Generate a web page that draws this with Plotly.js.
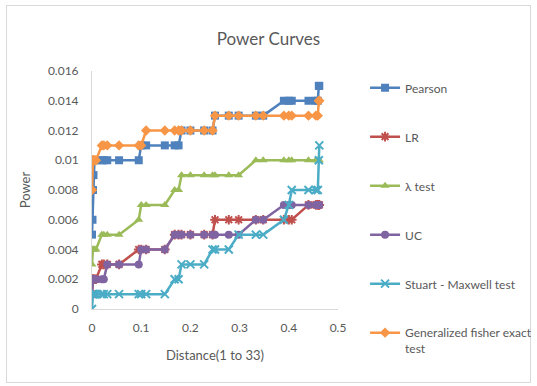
<!DOCTYPE html>
<html>
<head>
<meta charset="utf-8">
<script src="https://cdn.plot.ly/plotly-3.0.1.min.js"></script>
<style>
  html, body { margin: 0; padding: 0; background: #ffffff; }
  #wrap { position: relative; width: 537px; height: 386px; }
  #frame { position: absolute; left: 6px; top: 5px; width: 523px; height: 376px; border: 1px solid #d9d9d9; }
  #chart { position: absolute; left: 0; top: 0; width: 537px; height: 386px; }
</style>
</head>
<body>
<div id="wrap">
  <div id="frame"></div>
  <div id="chart"></div>
</div>
<script>
// Distance values (33 alternatives)
const distance = [0, 0.001, 0.002, 0.003, 0.005, 0.008, 0.02, 0.024, 0.031, 0.055, 0.095,
  0.1, 0.11, 0.148, 0.168, 0.176, 0.182, 0.2, 0.228, 0.245, 0.25, 0.278, 0.298,
  0.333, 0.348, 0.39, 0.4, 0.406, 0.44, 0.455, 0.459, 0.461, 0.462];

const pearson = [0.005, 0.006, 0.008, 0.009, 0.01, 0.01, 0.01, 0.01, 0.01, 0.01, 0.01,
  0.011, 0.011, 0.011, 0.011, 0.011, 0.012, 0.012, 0.012, 0.012, 0.013, 0.013, 0.013,
  0.013, 0.013, 0.014, 0.014, 0.014, 0.014, 0.014, 0.014, 0.015, 0.015];

const lr = [0.001, 0.002, 0.002, 0.002, 0.002, 0.002, 0.003, 0.003, 0.003, 0.003, 0.004,
  0.004, 0.004, 0.004, 0.005, 0.005, 0.005, 0.005, 0.005, 0.005, 0.006, 0.006, 0.006,
  0.006, 0.006, 0.006, 0.006, 0.006, 0.007, 0.007, 0.007, 0.007, 0.007];

const lambdaTest = [0.003, 0.004, 0.004, 0.004, 0.004, 0.004, 0.005, 0.005, 0.005, 0.005, 0.006,
  0.007, 0.007, 0.007, 0.008, 0.008, 0.009, 0.009, 0.009, 0.009, 0.009, 0.009, 0.009,
  0.01, 0.01, 0.01, 0.01, 0.01, 0.01, 0.01, 0.01, 0.01, 0.01];

const uc = [0.001, 0.002, 0.002, 0.002, 0.002, 0.002, 0.002, 0.002, 0.003, 0.003, 0.003,
  0.004, 0.004, 0.004, 0.005, 0.005, 0.005, 0.005, 0.005, 0.005, 0.005, 0.005, 0.005,
  0.006, 0.006, 0.007, 0.007, 0.007, 0.007, 0.007, 0.007, 0.007, 0.007];

const stuartMaxwell = [0, 0.001, 0.001, 0.001, 0.001, 0.001, 0.001, 0.001, 0.001, 0.001, 0.001,
  0.001, 0.001, 0.001, 0.002, 0.002, 0.003, 0.003, 0.003, 0.004, 0.004, 0.004, 0.005,
  0.005, 0.005, 0.006, 0.007, 0.008, 0.008, 0.008, 0.008, 0.01, 0.011];

const fisher = [0.008, 0.01, 0.01, 0.01, 0.01, 0.01, 0.011, 0.011, 0.011, 0.011, 0.011,
  0.011, 0.012, 0.012, 0.012, 0.012, 0.012, 0.012, 0.012, 0.012, 0.013, 0.013, 0.013,
  0.013, 0.013, 0.013, 0.013, 0.013, 0.013, 0.013, 0.013, 0.014, 0.014];

const seriesNames = ["Pearson", "LR", "\u03bb test", "UC", "Stuart - Maxwell test", "Generalized fisher exact<br>test"];
const seriesData = [pearson, lr, lambdaTest, uc, stuartMaxwell, fisher];
const colors = ["#4F81BD", "#C0504D", "#9BBB59", "#8064A2", "#4BACC6", "#F79646"];
const symbols = ["square", "asterisk-open", "triangle-up", "circle", "x-thin-open", "diamond"];
const sizes = [8, 8, 8, 8, 8, 8];

const traces = seriesData.map((ys, i) => ({
  type: "scatter",
  mode: "lines+markers",
  name: seriesNames[i],
  legendgroup: "g" + i,
  x: distance,
  y: ys,
  line: { color: colors[i], width: 2.5 },
  marker: {
    symbol: symbols[i],
    size: sizes[i],
    color: colors[i],
    line: { color: colors[i], width: (symbols[i].indexOf("open") >= 0) ? 2 : 0 }
  }
}));

const font = "Lato, 'Open Sans', sans-serif";
const layout = {
  width: 537,
  height: 386,
  paper_bgcolor: "rgba(0,0,0,0)",
  plot_bgcolor: "rgba(0,0,0,0)",
  margin: { l: 92, r: 199, t: 71, b: 77, autoexpand: false },
  font: { family: font, color: "#595959", size: 12 },
  title: {
    text: "Power Curves",
    x: 0.5, xanchor: "center",
    y: 0.9, yanchor: "middle",
    font: { family: font, size: 17, color: "#595959" }
  },
  xaxis: {
    range: [0, 0.5],
    dtick: 0.1,
    tick0: 0,
    showgrid: false,
    zeroline: false,
    showline: true,
    linecolor: "#d9d9d9",
    linewidth: 1,
    ticks: "",
    ticklabelstandoff: 8,
    automargin: false,
    tickfont: { family: font, size: 12, color: "#595959" },
    title: { text: "Distance(1 to 33)", font: { family: font, size: 13, color: "#595959" }, standoff: 16 }
  },
  yaxis: {
    range: [0, 0.016],
    dtick: 0.002,
    tick0: 0,
    showgrid: false,
    zeroline: false,
    showline: true,
    linecolor: "#d9d9d9",
    linewidth: 1,
    ticks: "",
    ticklabelstandoff: 10,
    automargin: false,
    tickfont: { family: font, size: 12, color: "#595959" },
    title: { text: "Power", font: { family: font, size: 13, color: "#595959" }, standoff: 14 }
  },
  legend: {
    x: 1.11, xanchor: "left",
    yref: "container",
    y: 0.81, yanchor: "top",
    maxheight: 370,
    itemwidth: 30,
    tracegroupgap: 30,
    valign: "top",
    font: { family: font, size: 12, color: "#595959" },
    bgcolor: "rgba(0,0,0,0)"
  },
  showlegend: true
};

Plotly.newPlot("chart", traces, layout, { displayModeBar: false, staticPlot: true });
</script>
</body>
</html>
